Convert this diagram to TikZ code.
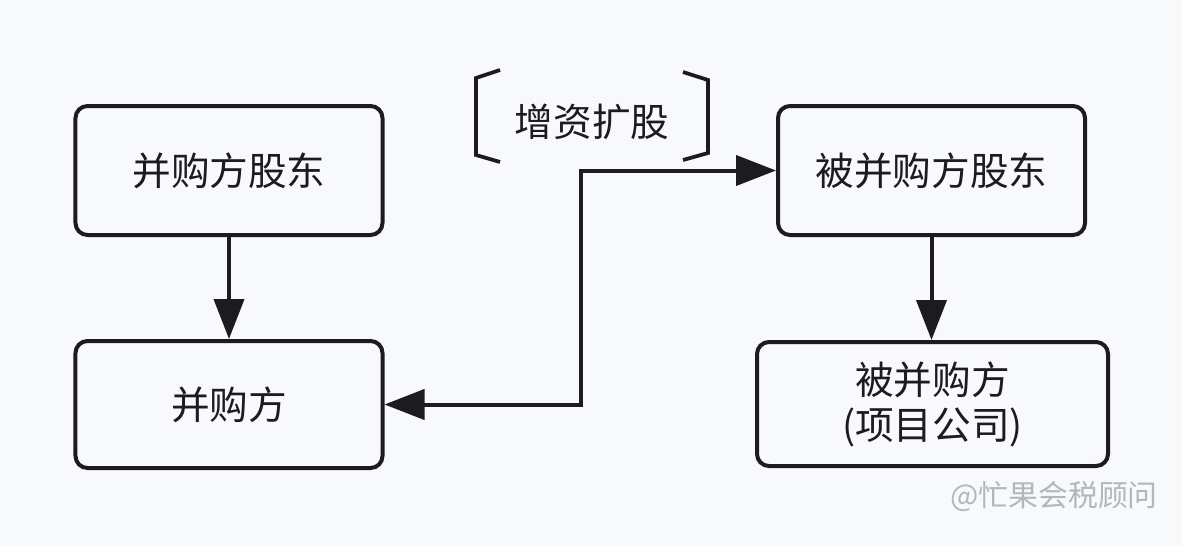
\documentclass[tikz,border=0pt]{standalone}
\usepackage{fontspec}
\setmainfont{Noto Sans CJK SC}
\usetikzlibrary{arrows.meta}
\definecolor{bgcol}{HTML}{F8F9FB}
\definecolor{edgecol}{HTML}{1C1C1E}
\definecolor{wmcol}{HTML}{B4B6BA}

\begin{document}
\begin{tikzpicture}[x=0.2mm, y=-0.2mm,
  party/.style={draw=edgecol, line width=0.8mm, rounded corners=2.4mm,
    minimum width=\Bw, minimum height=\Bh, align=center,
    font=\fontsize{22}{25.6}\selectfont, text=edgecol},
  flow/.style={draw=edgecol, line width=0.8mm, -{Triangle[length=8mm,width=6mm]}},
  brace/.style={draw=edgecol, line width=0.75mm}]
\newcommand{\Bw}{61.4mm};
\newcommand{\Bh}{25.8mm};
\newcommand{\Mx}{581};
\useasboundingbox (0,0) rectangle (1182,546);
\fill[bgcol] (0,0) rectangle (1182,546);

% parties
\node[party] (acqsh) at (229,170.5) {并购方股东};
\node[party, minimum height=25.4mm] (acq) at (229,404.5) {并购方};
\node[party] (tgtsh) at (931.5,170.5) {被并购方股东};
\node[party, minimum width=70.2mm, minimum height=24.8mm] (tgt) at (932.5,404) {被并购方\\(项目公司)};
%

% arrows
\coordinate (mid) at (\Mx, 0);
\draw[flow] (acqsh) -- (acq);
\draw[flow] (tgtsh) -- (tgtsh |- tgt.north);
\draw[flow, {Triangle[length=8mm,width=6mm]}-{Triangle[length=8mm,width=6mm]}]
  (acq.east) -- (acq.east -| mid) -- (mid |- tgtsh.west) -- (tgtsh.west);
%

% labels
\node[font=\fontsize{22}{22}\selectfont, text=edgecol] (capinc) at (592,122) {增资扩股};
\draw[brace] (500,70) -- (476,78) -- (476,155) -- (500,162);
\draw[brace] (683,72) -- (708,80) -- (708,153) -- (683,160);
\node[font=\fontsize{17}{17}\selectfont, text=wmcol] (wm) at (1054,497) {@忙果会税顾问};
%
\end{tikzpicture}
\end{document}
